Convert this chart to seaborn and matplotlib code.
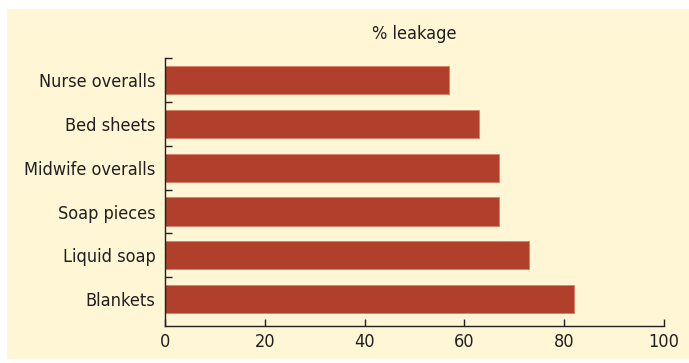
import matplotlib
matplotlib.use("Agg")
import matplotlib.pyplot as plt
import seaborn as sns
import pandas as pd
from matplotlib.ticker import FixedLocator

categories = ["Nurse overalls", "Bed sheets", "Midwife overalls", "Soap pieces", "Liquid soap", "Blankets"]
leakage = [57, 63, 67, 67, 73, 82]
xticks = [0, 20, 40, 60, 80, 100]
title = "% leakage"

sns.set_theme(style="white")
plt.rcParams['font.family'] = ['DejaVu Sans']
plt.rcParams['font.stretch'] = 'condensed'

bg = "#FEF6D4"
bar_color = "#B0402C"
ink = "#231F20"

fig = plt.figure(figsize=(6.89, 3.63), dpi=100, facecolor="white")
bgax = fig.add_axes([7/689, 4/363, 1 - 7/689, 350/363], zorder=-10)
bgax.set_facecolor(bg)
bgax.set_xticks([])
bgax.set_yticks([])
for s in bgax.spines.values():
    s.set_visible(False)

ax = fig.add_axes([165/689, 1 - 326/363, 499/689, 268/363], zorder=1)
ax.set_facecolor("none")

df = pd.DataFrame({"category": categories, "leakage": leakage})
sns.barplot(data=df, y="category", x="leakage", color=bar_color, saturation=1,
            width=0.64, edgecolor="#D9806A", linewidth=0.6, ax=ax)

ax.set_xlim(0, 100)
ax.set_ylim(5.61, -0.5)
ax.set_xticks(xticks)
ax.set_xticklabels([str(v) for v in xticks])
ax.set_xlabel("")
ax.set_ylabel("")
ax.set_title(title, fontsize=13, color=ink, pad=14)

for s in ["top", "right"]:
    ax.spines[s].set_visible(False)
for s in ["left", "bottom"]:
    ax.spines[s].set_color(ink)
    ax.spines[s].set_linewidth(1.0)

ax.tick_params(axis="x", direction="in", length=5, width=1, color=ink,
               labelsize=13, labelcolor=ink, pad=5, bottom=True)
ax.tick_params(axis="y", which="major", length=0, labelsize=13, labelcolor=ink, pad=7)
ax.yaxis.set_minor_locator(FixedLocator([-0.5, 0.5, 1.5, 2.5, 3.5, 4.5]))
ax.tick_params(axis="y", which="minor", direction="in", length=5, width=1, color=ink, left=True)

fig.savefig("out.png", dpi=100, facecolor="white")
